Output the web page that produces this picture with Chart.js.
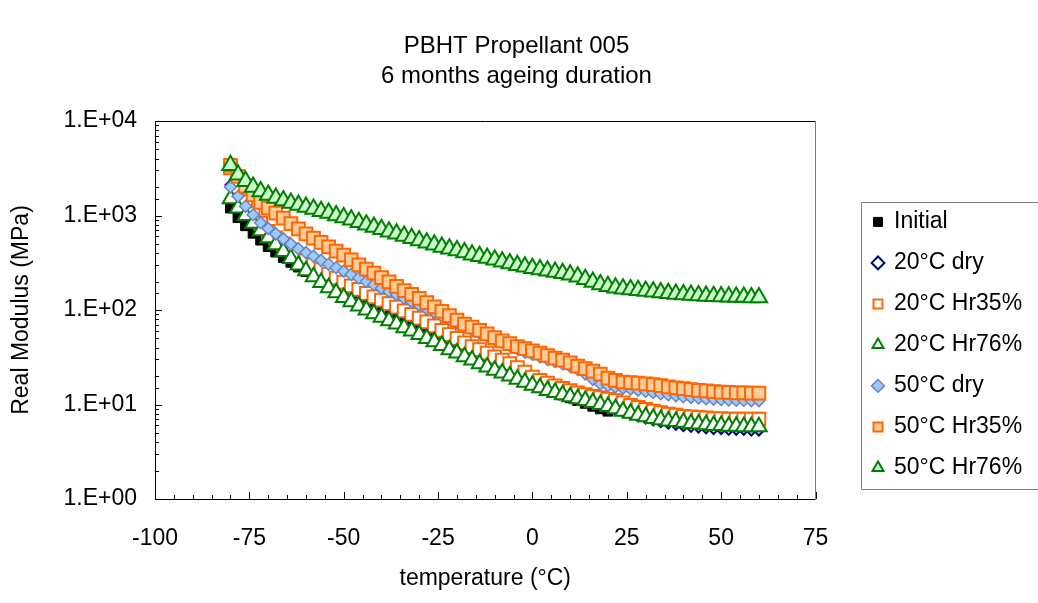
<!DOCTYPE html>
<html>
<head>
<meta charset="utf-8">
<script src="https://cdn.jsdelivr.net/npm/chart.js@4.4.1/dist/chart.umd.min.js"></script>
<style>
  html, body { margin: 0; padding: 0; background: #fff; }
</style>
</head>
<body>
<canvas id="chartModulus" width="1038" height="603"></canvas>
<script>
// temperature (°C) of each measurement
const temps = [-80, -78, -76, -74, -72, -70, -68, -66, -64, -62, -60, -58, -56, -54, -52, -50, -48, -46, -44, -42,
  -40, -38, -36, -34, -32, -30, -28, -26, -24, -22, -20, -18, -16, -14, -12, -10, -8, -6, -4, -2,
  0, 2, 4, 6, 8, 10, 12, 14, 16, 18, 20, 22, 24, 26, 28, 30, 32, 34, 36, 38,
  40, 42, 44, 46, 48, 50, 52, 54, 56, 58, 60];

// real modulus (MPa)
const initial = [1200, 950, 780, 650, 550, 470, 410, 360, 320, 285, 255, 228, 205, 183, 163, 146, 130, 117, 106, 96,
  88, 80, 73, 67, 61, 56, 51, 47, 43, 39.5, 36, 33, 30.5, 28, 26, 24, 22, 20.5, 19, 17.6,
  16.4, 15.3, 14.3, 13.4, 12.6, 11.8, 11, 10.3, 9.6, 9, 8.5];
const dry20 = [2100, 1500, 1150, 920, 760, 640, 545, 465, 400, 345, 300, 262, 230, 203, 180, 160, 143, 128, 116, 105,
  96, 88, 80, 73, 67, 61, 56, 51, 47, 43, 39.5, 36, 33, 30.5, 28, 26, 24, 22, 20.5, 19,
  17.7, 16.5, 15.4, 14.5, 13.6, 12.8, 12, 11.3, 10.6, 10, 9.3, 8.8, 8.3, 7.9, 7.5, 7.1, 6.8, 6.5, 6.3, 6.1,
  5.9, 5.8, 5.7, 5.6, 5.5, 5.5, 5.4, 5.4, 5.4, 5.3, 5.3];
const hr35at20 = [3200, 2000, 1400, 1050, 830, 680, 580, 500, 435, 380, 335, 300, 268, 240, 217, 197, 180, 165, 150, 138,
  127, 117, 107, 98, 90, 82, 75, 68, 61, 55, 50, 45, 41, 38, 35, 32, 29.5, 27, 24.5, 22,
  19.5, 18, 16.8, 15.7, 14.8, 14, 13.3, 12.7, 12.2, 11.8, 11.4, 11, 10.4, 9.8, 9.3, 8.9, 8.5, 8.2, 7.9, 7.7,
  7.5, 7.4, 7.3, 7.2, 7.1, 7.1, 7, 7, 7, 7, 7];
const hr76at20 = [1500, 1200, 1000, 830, 690, 580, 490, 415, 350, 300, 260, 225, 195, 172, 152, 136, 122, 110, 100, 91,
  84, 77, 71, 65, 60, 55, 50, 46, 42, 38, 35, 32, 29.5, 27, 25, 23, 21.5, 20, 18.5, 17.2,
  16, 15, 14.1, 13.4, 12.7, 12.1, 11.5, 11, 10.5, 10, 9.5, 9, 8.5, 8.1, 7.7, 7.4, 7.1, 6.9, 6.7, 6.6,
  6.5, 6.3, 6.2, 6.1, 6, 6, 5.9, 5.9, 5.8, 5.8, 5.8];
const dry50 = [2000, 1600, 1250, 1020, 840, 730, 640, 565, 500, 445, 405, 370, 335, 305, 280, 258, 238, 218, 200, 185,
  170, 157, 145, 133, 122, 112, 103, 95, 87, 80, 73, 66, 61, 57, 53, 49, 46, 42, 39, 36,
  34, 32, 30, 28.5, 27, 25.5, 23.5, 21, 18.5, 16.5, 15.8, 15.3, 14.9, 14.6, 14.2, 13.8, 13.4, 13, 12.7, 12.4,
  12.1, 11.9, 11.7, 11.5, 11.4, 11.3, 11.2, 11.1, 11.1, 11, 11];
const hr35at50 = [3400, 2600, 2050, 1650, 1380, 1200, 1060, 940, 820, 720, 640, 575, 520, 465, 420, 380, 340, 300, 270, 245,
  220, 198, 178, 160, 146, 133, 120, 108, 97, 87, 78, 71, 66, 61, 56, 51, 47, 44, 41, 39,
  37, 35, 33, 31, 29.5, 27.5, 25.5, 24, 22.5, 21, 19, 18, 17.3, 17, 16.8, 16.5, 16.2, 15.8, 15.4, 15,
  14.7, 14.4, 14.1, 13.9, 13.7, 13.5, 13.4, 13.3, 13.3, 13.2, 13.2];
const hr76at50 = [3400, 2700, 2300, 2000, 1800, 1650, 1530, 1440, 1360, 1290, 1230, 1170, 1110, 1060, 1000, 950, 900, 850, 800, 755,
  715, 675, 640, 605, 575, 545, 515, 490, 465, 445, 425, 405, 385, 370, 355, 340, 325, 310, 298, 287,
  277, 268, 260, 252, 245, 236, 225, 212, 198, 186, 178, 172, 168, 165, 162, 159, 156, 153, 150, 148,
  146, 144, 142, 141, 140, 139, 138, 137, 137, 136, 136];

const seriesLabels = ["Initial", "20°C dry", "20°C Hr35%", "20°C Hr76%", "50°C dry", "50°C Hr35%", "50°C Hr76%"];
const yTickLabels = ["1.E+00", "1.E+01", "1.E+02", "1.E+03", "1.E+04"];

const toPoints = (vals) => vals.map((v, i) => ({ x: temps[i], y: v }));

Chart.defaults.font.family = "'Liberation Sans', Arial, sans-serif";
Chart.defaults.color = "#000";

const FONT = 23;

const markerStyles = [
  { pointStyle: "rect", pointRadius: 7, backgroundColor: "#000000", borderColor: "#000000", borderWidth: 1 },
  { pointStyle: "rectRot", pointRadius: 5, backgroundColor: "#ffffff", borderColor: "#000080", borderWidth: 2 },
  { pointStyle: "rect", pointRadius: 9, backgroundColor: "#ffffff", borderColor: "#ff6600", borderWidth: 2 },
  { pointStyle: "triangle", pointRadius: 9, backgroundColor: "#ffffff", borderColor: "#008000", borderWidth: 2 },
  { pointStyle: "rectRot", pointRadius: 6, backgroundColor: "#99ccff", borderColor: "#7080c0", borderWidth: 1.5 },
  { pointStyle: "rect", pointRadius: 9, backgroundColor: "#ffcc99", borderColor: "#ff6600", borderWidth: 2 },
  { pointStyle: "triangle", pointRadius: 9.5, backgroundColor: "#ccffcc", borderColor: "#008000", borderWidth: 2 },
];
const seriesValues = [initial, dry20, hr35at20, hr76at20, dry50, hr35at50, hr76at50];

const datasets = seriesValues.map((vals, i) => ({
  label: seriesLabels[i],
  data: toPoints(vals),
  showLine: false,
  // later series are drawn on top, as in the original
  order: seriesValues.length - i,
  ...markerStyles[i],
}));

const isDecade = (v) => {
  const l = Math.log10(v);
  return Math.abs(l - Math.round(l)) < 1e-9;
};

// small tick marks drawn inside the plot, plus the frame round the legend
const insideTicks = {
  id: "insideTicks",
  afterDatasetsDraw(chart) {
    const { ctx, chartArea: area, scales: { x, y } } = chart;
    ctx.save();
    ctx.strokeStyle = "#000";
    ctx.lineWidth = 1;
    ctx.beginPath();
    x.ticks.forEach((t) => {
      const px = Math.round(x.getPixelForValue(t.value)) + 0.5;
      const len = t.value % 25 === 0 ? 7 : 4;
      ctx.moveTo(px, area.bottom);
      ctx.lineTo(px, area.bottom - len);
    });
    y.ticks.forEach((t) => {
      const py = Math.round(y.getPixelForValue(t.value)) + 0.5;
      const len = isDecade(t.value) ? 7 : 4;
      ctx.moveTo(area.left, py);
      ctx.lineTo(area.left + len, py);
    });
    ctx.stroke();
    ctx.restore();
  },
  afterDraw(chart) {
    const boxes = chart.legend.legendHitBoxes;
    if (!boxes.length) return;
    const first = boxes[0];
    const last = boxes[boxes.length - 1];
    const left = Math.round(first.left - 13) + 0.5;
    const top = Math.round(first.top - 8) + 0.5;
    const bottom = Math.round(last.top + last.height + 10) + 0.5;
    const { ctx } = chart;
    // the legend runs off the right edge, so only three sides show
    ctx.save();
    ctx.strokeStyle = "#808080";
    ctx.lineWidth = 1;
    ctx.beginPath();
    ctx.moveTo(chart.width, top);
    ctx.lineTo(left, top);
    ctx.lineTo(left, bottom);
    ctx.lineTo(chart.width, bottom);
    ctx.stroke();
    ctx.restore();
  },
};

new Chart(document.querySelector("#chartModulus"), {
  type: "scatter",
  data: { datasets },
  options: {
    responsive: false,
    animation: false,
    events: [],
    layout: { padding: { left: 8, right: 13, top: 0, bottom: 11 } },
    scales: {
      x: {
        type: "linear",
        min: -100,
        max: 75,
        grid: { display: true, drawOnChartArea: false, drawTicks: false },
        border: { display: true, color: "#000", width: 1 },
        ticks: {
          stepSize: 5,
          autoSkip: false,
          maxRotation: 0,
          padding: 26,
          font: { size: FONT },
          callback: (v) => (v % 25 === 0 ? String(v) : ""),
        },
        title: { display: true, text: "temperature (°C)", font: { size: FONT }, padding: 0 },
        afterFit: (scale) => { scale.height = 93; },
      },
      x2: {
        type: "linear",
        position: "top",
        min: -100,
        max: 75,
        grid: { display: false },
        border: { display: true, color: "#000", width: 1 },
        ticks: { display: false },
        afterFit: (scale) => { scale.height = 0; },
      },
      y: {
        type: "logarithmic",
        min: 1,
        max: 10000,
        grid: { display: true, drawOnChartArea: false, drawTicks: false },
        border: { display: true, color: "#000", width: 1 },
        ticks: {
          autoSkip: false,
          padding: 18,
          font: { size: FONT },
          callback: (v) => (isDecade(v) ? yTickLabels[Math.round(Math.log10(v))] : ""),
        },
        title: { display: true, text: "Real Modulus (MPa)", font: { size: FONT }, padding: 0 },
        afterFit: (scale) => { scale.width = 147; },
      },
      y2: {
        type: "linear",
        position: "right",
        min: 0,
        max: 1,
        grid: { display: false },
        border: { display: true, color: "#808080", width: 1 },
        ticks: { display: false },
        afterFit: (scale) => { scale.width = 40; },
      },
    },
    plugins: {
      title: {
        display: true,
        text: ["PBHT Propellant 005", "6 months ageing duration"],
        font: { size: 24, weight: "normal", lineHeight: 1.25 },
        color: "#000",
        padding: { top: 31, bottom: 30 },
      },
      legend: {
        position: "right",
        align: "start",
        fullSize: false,
        title: { display: true, text: "", padding: { top: 57, bottom: 0 } },
        labels: {
          usePointStyle: true,
          boxWidth: 9,
          boxHeight: 9,
          padding: 18,
          font: { size: FONT },
          color: "#000",
          sort: (a, b) => a.datasetIndex - b.datasetIndex,
        },
      },
      tooltip: { enabled: false },
    },
  },
  plugins: [insideTicks],
});
</script>
</body>
</html>
